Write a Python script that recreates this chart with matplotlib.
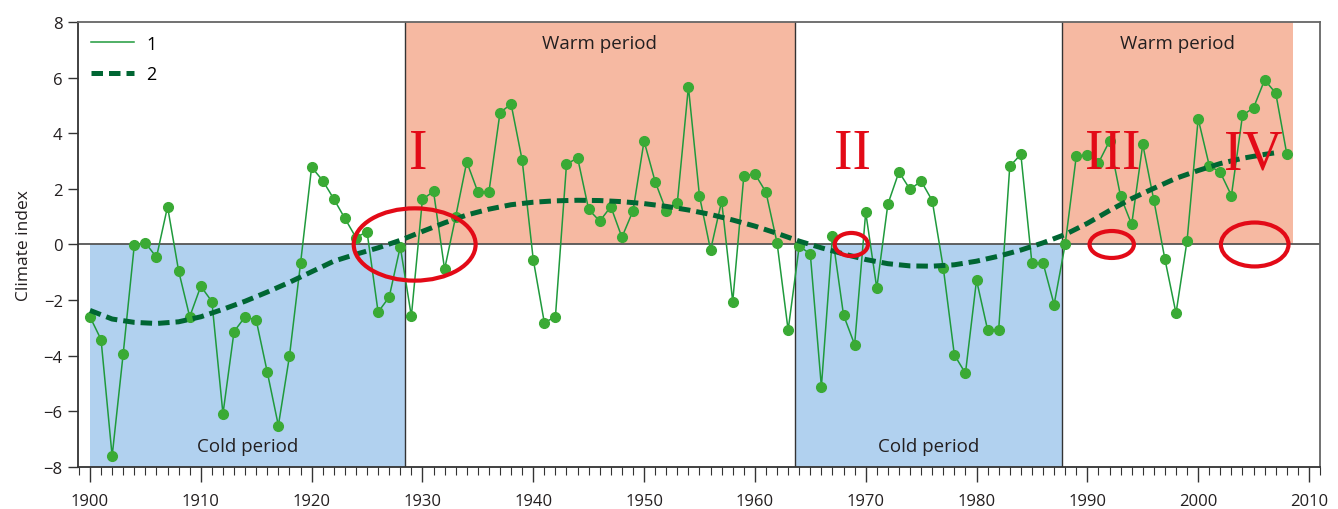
import matplotlib
matplotlib.use("Agg")
import matplotlib.pyplot as plt
from matplotlib.patches import Ellipse
from matplotlib.ticker import MultipleLocator
import numpy as np

plt.rcParams['font.family'] = ['Open Sans', 'DejaVu Sans']

# annual climate index, 1900-2008 (series 1)
years = list(range(1900, 2009))
index = [
    -2.60, -3.42, -7.61, -3.92, -0.02, 0.06, -0.46, 1.36, -0.95, -2.60,   # 1900s
    -1.50, -2.05, -6.09, -3.13, -2.60, -2.72, -4.59, -6.51, -4.02, -0.68,  # 1910s
    2.78, 2.30, 1.64, 0.94, 0.25, 0.46, -2.43, -1.89, -0.08, -2.58,       # 1920s
    1.62, 1.91, -0.89, 1.00, 2.97, 1.89, 1.89, 4.74, 5.05, 3.03,          # 1930s
    -0.54, -2.81, -2.60, 2.88, 3.12, 1.26, 0.84, 1.36, 0.26, 1.21,        # 1940s
    3.72, 2.26, 1.21, 1.50, 5.67, 1.74, -0.20, 1.56, -2.06, 2.46,         # 1950s
    2.54, 1.88, 0.06, -3.08, -0.06, -0.34, -5.12, 0.30, -2.54, -3.60,     # 1960s
    1.16, -1.57, 1.45, 2.61, 1.98, 2.28, 1.58, -0.84, -3.97, -4.63,       # 1970s
    -1.28, -3.07, -3.06, 2.81, 3.24, -0.68, -0.66, -2.16, 0.01, 3.17,     # 1980s
    3.23, 2.93, 3.72, 1.73, 0.72, 3.60, 1.59, -0.53, -2.47, 0.14,         # 1990s
    4.52, 2.84, 2.59, 1.76, 4.64, 4.92, 5.92, 5.44, 3.25,                 # 2000s
]

# smoothed trend (series 2)
trend_years = list(range(1900, 2007, 2)) + [2007]
trend = [
    -2.37, -2.68, -2.80, -2.84, -2.78, -2.60, -2.33, -2.04, -1.71, -1.36,
    -0.98, -0.60, -0.35, -0.12, 0.15, 0.47, 0.78, 1.06, 1.27, 1.43,
    1.52, 1.57, 1.59, 1.58, 1.54, 1.47, 1.37, 1.24, 1.08, 0.88,
    0.66, 0.40, 0.12, -0.12, -0.34, -0.54, -0.69, -0.77, -0.78, -0.73,
    -0.60, -0.42, -0.20, 0.06, 0.36, 0.76, 1.22, 1.65, 2.02, 2.38,
    2.66, 2.91, 3.10, 3.24, 3.30,
]

# cold / warm periods: (start, end, label)
cold_periods = [(1900, 1928.4, 'Cold period'), (1963.6, 1987.7, 'Cold period')]
warm_periods = [(1928.4, 1963.6, 'Warm period'), (1987.7, 2008.6, 'Warm period')]
boundaries = [1928.4, 1963.6, 1987.7]

# highlighted zones: (centre year, width in years, height in index units, label, label x)
zones = [
    (1929.3, 11.0, 2.6, 'I', 1929.6),
    (1968.7, 3.0, 0.83, 'II', 1968.8),
    (1992.2, 4.0, 0.97, 'III', 1992.3),
    (2005.1, 6.1, 1.58, 'IV', 2005.0),
]

cold_c = '#b1d1ef'
warm_c = '#f6b9a2'
red = '#e30a17'

fig = plt.figure(figsize=(13.38, 5.10), dpi=100)
ax = fig.add_axes([0.0583, 0.0824, 0.9283, 0.8725])

for x0, x1, lab in cold_periods:
    ax.axvspan(x0, x1, ymin=0, ymax=0.5, color=cold_c, lw=0, zorder=0)
    ax.text((x0 + x1) / 2, -7.25, lab, ha='center', va='center', fontsize=13.5, color='#231f20')
for x0, x1, lab in warm_periods:
    ax.axvspan(x0, x1, ymin=0.5, ymax=1, color=warm_c, lw=0, zorder=0)
    ax.text((x0 + x1) / 2, 7.25, lab, ha='center', va='center', fontsize=13.5, color='#231f20')
for b in boundaries:
    ax.axvline(b, color='#333333', lw=1.0, zorder=1)
ax.axhline(0, color='#555555', lw=1.3, zorder=1)

ax.plot(years, index, color='#1f9a3c', lw=1.1, zorder=3, label='1')
ax.plot(years, index, ls='none', marker='o', ms=7, color='#3aaa35', zorder=4)
ax.plot(trend_years, trend, color='#006633', lw=3.6, dashes=(2.3, 1.2), zorder=5, label='2')

for cx, w, h, lab, tx in zones:
    ax.add_patch(Ellipse((cx, 0), w, h, fill=False, ec=red, lw=3.0, zorder=6))
    ax.text(tx, 3.25, lab, ha='center', va='center', fontsize=40, color=red,
            family=['Liberation Serif', 'DejaVu Serif'], zorder=6)

ax.set_xlim(1898.92, 2011.0)
ax.set_ylim(-8, 8)
ax.xaxis.set_major_locator(MultipleLocator(10))
ax.xaxis.set_minor_locator(MultipleLocator(1))
ax.set_yticks(np.arange(-8, 9, 2))
ax.set_yticklabels(['\u22128', '\u22126', '\u22124', '\u22122', '0', '2', '4', '6', '8'])
ax.tick_params(axis='x', which='major', length=10.5, width=1, color='#333333', labelsize=12, pad=8)
ax.tick_params(axis='x', which='minor', length=6, width=0.8, color='#333333')
ax.tick_params(axis='y', which='major', length=7.5, width=1, color='#333333', labelsize=12, pad=3.5)
ax.tick_params(labelcolor='#231f20')
ax.set_ylabel('Climate index', fontsize=12.5, color='#231f20', labelpad=8)

for side in ['left', 'bottom']:
    ax.spines[side].set_color('#333333')
for side in ['top', 'right']:
    ax.spines[side].set_color('#666666')
for s in ax.spines.values():
    s.set_linewidth(1.3)

leg = ax.legend(loc='upper left', frameon=False, fontsize=13, handlelength=2.4,
                labelspacing=0.7, borderaxespad=0.3, handletextpad=0.7)

fig.savefig('out.png', dpi=100)
